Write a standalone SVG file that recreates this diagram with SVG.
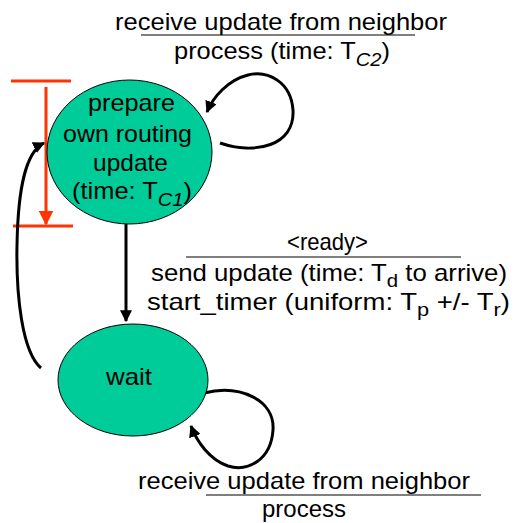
<svg xmlns="http://www.w3.org/2000/svg" width="515" height="523" viewBox="0 0 515 523">
<style>
text{font-family:"Liberation Sans","DejaVu Sans",sans-serif;font-size:24px;fill:#000}
.m{text-anchor:middle}
.sub{font-size:19px}
.it{font-style:italic}
.state{fill:#00CC99;stroke:#000;stroke-width:1}
.conn{fill:none;stroke:#000;stroke-width:3}
.rule{stroke:#000;stroke-width:1.2}
.red{stroke:#FF3300;stroke-width:3;fill:none}
</style>
<defs>
<marker id="ah" viewBox="0 0 10 10" refX="9" refY="5" markerWidth="4" markerHeight="4" orient="auto" markerUnits="strokeWidth">
<path d="M0,0 L10,5 L0,10 z" fill="#000"/>
</marker>
<marker id="ahr" viewBox="0 0 10 10" refX="9" refY="5" markerWidth="5" markerHeight="5" orient="auto" markerUnits="strokeWidth">
<path d="M0,0 L10,5 L0,10 z" fill="#FF3300"/>
</marker>
</defs>

<g id="timing">
<line class="red" x1="11" y1="81" x2="71" y2="81"/>
<line class="red" x1="13" y1="226" x2="73" y2="226"/>
<line class="red" x1="46" y1="87" x2="46" y2="224" marker-end="url(#ahr)" stroke-width="2"/>
</g>

<g id="connectors">
<path class="conn" d="M126 224 L126 321" stroke-width="2" marker-end="url(#ah)"/>
<path class="conn" d="M41 368 C22 352 16 295 17 245 C18 190 25 152 44 143" marker-end="url(#ah)"/>
<path class="conn" d="M220 143 C255 155 295 146 293 110 C291 82 268 70 248 75 C228 80 213 97 207 112" marker-end="url(#ah)"/>
<path class="conn" d="M204 393 C240 384 275 400 273 430 C271 460 248 472 228 466 C210 460 197 442 191 426" marker-end="url(#ah)"/>
</g>

<g id="node-prepare">
<ellipse class="state" cx="129.500" cy="152" rx="82.500" ry="72"/>
<text x="88" y="111" textLength="87" lengthAdjust="spacingAndGlyphs">prepare</text>
<text x="63" y="142" textLength="129" lengthAdjust="spacingAndGlyphs">own routing</text>
<text x="93" y="171" textLength="75" lengthAdjust="spacingAndGlyphs">update</text>
<text x="72" y="199" textLength="120" lengthAdjust="spacingAndGlyphs">(time: T<tspan class="sub it" dy="7">C1</tspan><tspan dy="-7">)</tspan></text>
</g>

<g id="node-wait">
<ellipse class="state" cx="133" cy="380" rx="75" ry="56"/>
<text x="106" y="385" textLength="46" lengthAdjust="spacingAndGlyphs">wait</text>
</g>

<g id="label-top">
<text x="115" y="30" textLength="332" lengthAdjust="spacingAndGlyphs">receive update from neighbor</text>
<line class="rule" x1="141" y1="35" x2="415" y2="35"/>
<text x="174" y="59" textLength="216" lengthAdjust="spacingAndGlyphs">process (time: T<tspan class="sub it" dy="7">C2</tspan><tspan dy="-7">)</tspan></text>
</g>

<g id="label-ready">
<text x="287" y="250" textLength="81" lengthAdjust="spacingAndGlyphs">&lt;ready&gt;</text>
<line class="rule" x1="186" y1="257" x2="461" y2="257"/>
<text x="151" y="281" textLength="356" lengthAdjust="spacingAndGlyphs">send update (time: T<tspan class="sub" dy="6">d</tspan><tspan dy="-6"> to arrive)</tspan></text>
<text x="147" y="310" textLength="363" lengthAdjust="spacingAndGlyphs">start_timer (uniform: T<tspan class="sub" dy="6">p</tspan><tspan dy="-6"> +/- T</tspan><tspan class="sub" dy="6">r</tspan><tspan dy="-6">)</tspan></text>
</g>

<g id="label-bottom">
<text x="138" y="489" textLength="332" lengthAdjust="spacingAndGlyphs">receive update from neighbor</text>
<line class="rule" x1="206" y1="495" x2="481" y2="495"/>
<text x="262" y="517" textLength="84" lengthAdjust="spacingAndGlyphs">process</text>
</g>
</svg>
